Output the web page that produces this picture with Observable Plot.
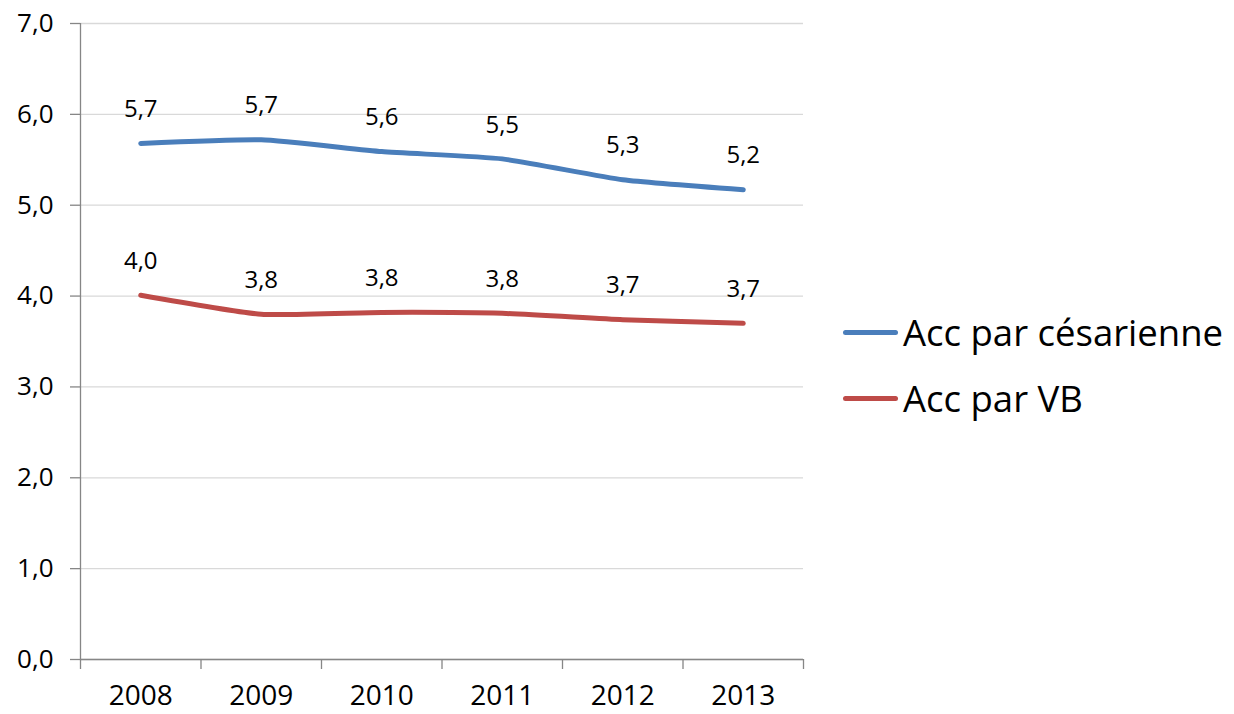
<!DOCTYPE html>
<html>
<head>
<meta charset="utf-8">
<script src="https://cdn.jsdelivr.net/npm/d3@7"></script>
<script src="https://cdn.jsdelivr.net/npm/@observablehq/plot@0.6"></script>
<style>
  html, body { margin: 0; padding: 0; background: #fff; }
  #wrap { position: relative; width: 1234px; height: 714px; font-family: "Open Sans", sans-serif; }
  .leg { position: absolute; left: 843px; display: flex; align-items: center; height: 40px; }
  .leg .sw { width: 55px; height: 5px; border-radius: 3px; margin-right: 5px; }
  .leg .lb { font-size: 36.5px; color: #000; line-height: 40px; white-space: nowrap; }
</style>
</head>
<body>
<div id="wrap"></div>
<script>
const years = [2008, 2009, 2010, 2011, 2012, 2013];
const cesarienne = [5.68, 5.72, 5.59, 5.51, 5.28, 5.17];
const vb = [4.01, 3.80, 3.82, 3.81, 3.74, 3.70];
const seriesNames = ["Acc par césarienne", "Acc par VB"];
const seriesColors = ["#4a7ebb", "#be4b48"];
const yTicks = [0, 1, 2, 3, 4, 5, 6, 7];
const xBoundaries = [2007.5, 2008.5, 2009.5, 2010.5, 2011.5, 2012.5, 2013.5];

const data = [];
[cesarienne, vb].forEach((vals, s) => {
  years.forEach((yr, i) => data.push({ year: yr, value: vals[i], series: seriesNames[s] }));
});

const fmt = v => d3.format(".1f")(v).replace(".", ",");

const chart = Plot.plot({
  width: 1234,
  height: 714,
  marginLeft: 80,
  marginRight: 431,
  marginTop: 23,
  marginBottom: 55,
  style: { fontFamily: "Open Sans, sans-serif", background: "#fff", color: "#000", overflow: "visible" },
  x: { type: "linear", domain: [2007.5, 2013.5] },
  y: { domain: [0, 7] },
  color: { domain: seriesNames, range: seriesColors },
  marks: [
    Plot.gridY(yTicks, { stroke: "#d9d9d9", strokeOpacity: 1, strokeWidth: 1.3 }),
    Plot.ruleX([2007.5], { stroke: "#868686", strokeWidth: 1.3 }),
    Plot.ruleY([0], { stroke: "#868686", strokeWidth: 1.3 }),
    Plot.axisY(yTicks, { tickSize: 10, tickPadding: 17, tickFormat: fmt, fontSize: 26, stroke: "#868686", strokeWidth: 1.3, fill: "#000", label: null }),
    Plot.axisX(xBoundaries, { tickSize: 10, tickFormat: () => "", stroke: "#868686", strokeWidth: 1.3, label: null }),
    Plot.axisX(years, { tickSize: 0, tickPadding: 26, tickFormat: d => String(d), fontSize: 28, fill: "#000", label: null }),
    Plot.line(data, { x: "year", y: "value", z: "series", stroke: "series", strokeWidth: 5, curve: "cardinal", tension: 0.5, strokeLinecap: "round", strokeLinejoin: "round" }),
    Plot.text(data, { x: "year", y: "value", text: d => fmt(d.value), dy: -34, fontSize: 24, fill: "#000" })
  ]
});

const wrap = document.getElementById("wrap");
wrap.appendChild(chart);

const legendY = [312, 378];
seriesNames.forEach((name, i) => {
  const item = document.createElement("div");
  item.className = "leg";
  item.style.top = legendY[i] + "px";
  const sw = document.createElement("div");
  sw.className = "sw";
  sw.style.background = seriesColors[i];
  const lb = document.createElement("div");
  lb.className = "lb";
  lb.textContent = name;
  item.appendChild(sw);
  item.appendChild(lb);
  wrap.appendChild(item);
});
</script>
</body>
</html>
